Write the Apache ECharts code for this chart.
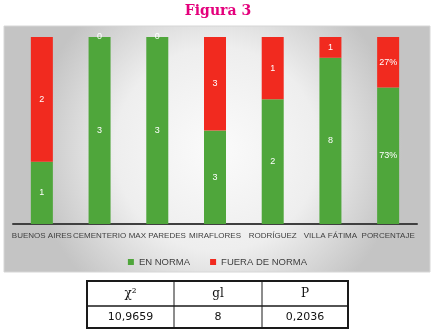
<!DOCTYPE html>
<html><head><meta charset="utf-8">
<script src="https://cdn.jsdelivr.net/npm/echarts@6/dist/echarts.min.js"></script>
<style>html,body{margin:0;padding:0;background:#fff}#c{width:435px;height:335px}</style>
</head><body><div id="c"></div>
<script>
var categories = ['BUENOS AIRES','CEMENTERIO','MAX PAREDES','MIRAFLORES','RODRÍGUEZ','VILLA FÁTIMA','PORCENTAJE'];
var enNorma = [1,3,3,3,2,8,73];
var fueraNorma = [2,0,0,3,1,1,27];
var labelSuffix = ['','','','','','','%'];
var tableHeader = ['χ²','gl','P'];
var tableValues = ['10,9659','8','0,2036'];

function pct(a, b, i){ var t = a[i] + b[i]; return t ? a[i] / t * 100 : 0; }
var greenData = enNorma.map(function(v,i){ return {value: pct(enNorma, fueraNorma, i), raw: v + labelSuffix[i]}; });
var redData = fueraNorma.map(function(v,i){ return {value: pct(fueraNorma, enNorma, i), raw: v + labelSuffix[i]}; });

var chart = echarts.init(document.getElementById('c'));
var colX = [87, 174, 262, 348];
var rowY = [281, 306, 328];
var graphics = [
  {type:'rect', z:-10, shape:{x:4,y:26,width:426,height:246},
   style:{fill:new echarts.graphic.RadialGradient(0.5,0.5,0.75,[{offset:0,color:'#fbfbfb'},{offset:0.55,color:'#eeeeee'},{offset:1,color:'#c4c4c4'}]), stroke:'#d6d6d6', lineWidth:1}},
  {type:'text', style:{text:'Figura 3', x:218, y:11, align:'center', verticalAlign:'middle', font:'bold 14px "DejaVu Serif"', fill:'#e4007c'}},
  {type:'rect', shape:{x:colX[0],y:rowY[0],width:colX[3]-colX[0],height:rowY[2]-rowY[0]}, style:{fill:'none', stroke:'#1a1a1a', lineWidth:2}},
  {type:'line', shape:{x1:colX[0],y1:rowY[1],x2:colX[3],y2:rowY[1]}, style:{stroke:'#1a1a1a', lineWidth:1.5}},
  {type:'line', shape:{x1:colX[1],y1:rowY[0],x2:colX[1],y2:rowY[2]}, style:{stroke:'#1a1a1a', lineWidth:1}},
  {type:'line', shape:{x1:colX[2],y1:rowY[0],x2:colX[2],y2:rowY[2]}, style:{stroke:'#1a1a1a', lineWidth:1}}
];
for (var j=0;j<3;j++){
  var cx = (colX[j]+colX[j+1])/2;
  graphics.push({type:'text', style:{text:tableHeader[j], x:cx, y:(rowY[0]+rowY[1])/2, align:'center', verticalAlign:'middle', font:'12px "DejaVu Serif"', fill:'#111'}});
  graphics.push({type:'text', style:{text:tableValues[j], x:cx, y:(rowY[1]+rowY[2])/2, align:'center', verticalAlign:'middle', font:'11px "DejaVu Sans"', fill:'#111'}});
}
var lbl = {show:true, position:'inside', color:'#ffffff', fontSize:9, fontFamily:'Liberation Sans', formatter:function(p){return p.data.raw;}};
chart.setOption({
  animation:false,
  grid:{left:13, right:18, top:37, bottom:111, containLabel:false},
  legend:{top:252, left:'center', itemWidth:6, itemHeight:6, itemGap:20, icon:'rect',
    textStyle:{fontSize:9.5, color:'#404040', fontFamily:'Liberation Sans'}, data:['EN NORMA','FUERA DE NORMA']},
  xAxis:{type:'category', data:categories, axisLine:{lineStyle:{color:'#404040', width:2}}, axisTick:{show:false},
    axisLabel:{fontSize:8, color:'#404040', fontFamily:'Liberation Sans', margin:8, interval:0}},
  yAxis:{type:'value', min:0, max:100, show:false},
  series:[
    {name:'EN NORMA', type:'bar', stack:'s', barWidth:22, data:greenData, itemStyle:{color:'#4fa63b'}, label:lbl},
    {name:'FUERA DE NORMA', type:'bar', stack:'s', barWidth:22, data:redData, itemStyle:{color:'#f12a1f'}, label:lbl}
  ],
  graphic:graphics
});
</script></body></html>
